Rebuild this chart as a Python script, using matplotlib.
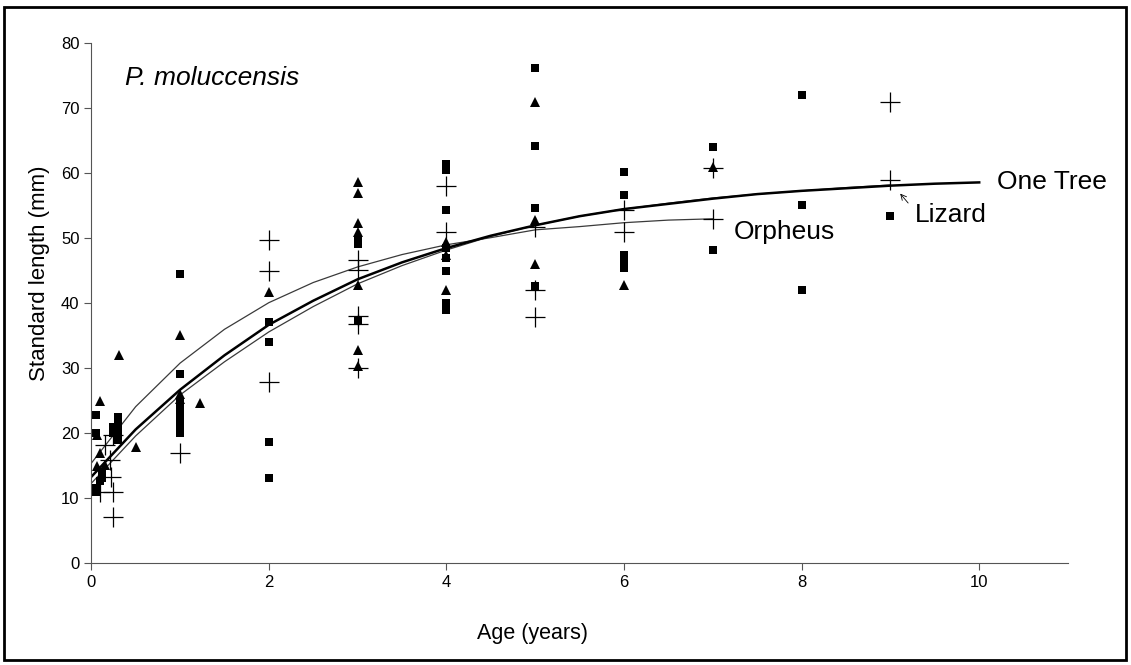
import matplotlib.pyplot as plt
import numpy as np
from matplotlib.patches import Rectangle

plt.rcParams['font.family'] = ['Liberation Sans', 'DejaVu Sans']

# scatter data (age in years, standard length in mm)
sq_age = [0.05, 0.05, 0.05, 0.05, 0.12, 0.12, 0.1, 0.3, 0.3, 0.3, 0.3, 0.3, 0.25, 0.25,
          1, 1, 1, 1, 1, 1, 1, 1, 1, 1, 1, 1,
          2, 2, 2, 2,
          3, 3, 3,
          4, 4, 4, 4, 4, 4, 4, 4,
          5, 5, 5, 5,
          6, 6, 6, 6, 6,
          7, 7, 8, 8, 8, 9]
sq_len = [22.8, 20.0, 11.6, 10.9, 14.0, 13.2, 12.6, 22.5, 21.5, 20.5, 19.5, 19.0, 21.0, 20.0,
          44.5, 29.2, 25.0, 24.5, 24.0, 23.5, 23.0, 22.5, 22.0, 21.5, 21.0, 20.1,
          37.2, 34.1, 18.7, 13.2,
          49.8, 49.2, 37.5,
          61.5, 60.5, 54.3, 48.5, 47.0, 45.0, 40.0, 39.0,
          76.2, 64.2, 54.6, 42.6,
          60.2, 56.6, 47.5, 46.5, 45.5,
          64.0, 48.2, 72.0, 55.1, 42.0, 53.5]

tri_age = [0.31, 0.1, 0.06, 0.5, 0.1, 0.06, 0.15,
           1, 1, 1, 1.23,
           2,
           3, 3, 3, 3, 3, 3, 3,
           4, 4, 4,
           5, 5, 5,
           6, 7]
tri_len = [32.0, 24.9, 19.7, 17.9, 16.9, 14.9, 15.1,
           35.1, 26.0, 25.3, 24.6,
           41.8,
           58.7, 56.9, 52.3, 51.0, 42.8, 32.8, 30.3,
           49.5, 47.5, 42.0,
           71.0, 52.8, 46.0,
           42.8, 61.0]

plus_age = [0.15, 0.24, 0.21, 0.22, 0.1, 0.24, 0.24,
            1,
            2, 2, 2,
            3, 3, 3, 3, 3,
            4, 4,
            5, 5, 5,
            6, 6, 7, 7, 9, 9]
plus_len = [18.2, 19.7, 15.9, 13.3, 11.0, 11.0, 7.2,
            16.9,
            49.8, 44.9, 27.9,
            46.7, 45.2, 38.0, 36.8, 30.0,
            58.0, 51.0,
            51.8, 42.0, 37.9,
            54.4, 50.9, 60.8, 52.9, 71.0, 59.0]

# fitted growth curves
onetree_age = [0, 0.5, 1, 1.5, 2, 2.5, 3, 3.5, 4, 4.5, 5, 5.5, 6, 6.5, 7, 7.5, 8, 8.5, 9, 9.5, 10]
onetree_len = [13.3, 20.6, 26.7, 32.0, 36.7, 40.4, 43.7, 46.3, 48.5, 50.4, 52.0, 53.4, 54.5,
               55.3, 56.1, 56.8, 57.3, 57.7, 58.1, 58.4, 58.6]
lizard_age = [0, 0.5, 1, 1.5, 2, 2.5, 3, 3.5, 4, 4.5, 5, 5.5, 6, 6.5, 7, 7.5, 8, 8.5, 9]
lizard_len = [12.3, 19.6, 25.9, 31.0, 35.6, 39.5, 43.0, 45.8, 48.2, 50.3, 52.0, 53.4, 54.5,
              55.4, 56.2, 56.8, 57.3, 57.8, 58.2]
orpheus_age = [0, 0.5, 1, 1.5, 2, 2.5, 3, 3.5, 4, 4.5, 5, 5.5, 6, 6.5, 7]
orpheus_len = [15.4, 24.1, 30.8, 36.0, 40.1, 43.2, 45.6, 47.5, 49.0, 50.1, 51.3, 51.8, 52.4,
               52.8, 53.0]

fig = plt.figure(figsize=(11.31, 6.65), dpi=100)
ax = fig.add_axes([0.0807, 0.1529, 0.8636, 0.7820])

ax.plot(orpheus_age, orpheus_len, color='#3a3a3a', lw=0.9)
ax.plot(lizard_age, lizard_len, color='#3a3a3a', lw=0.9)
ax.plot(onetree_age, onetree_len, color='black', lw=1.8)

ax.plot(sq_age, sq_len, 's', color='black', ms=6, mew=0, linestyle='none')
ax.plot(tri_age, tri_len, '^', color='black', ms=7.5, mew=0, linestyle='none')
ax.plot(plus_age, plus_len, '+', color='black', ms=14, mew=0.9, linestyle='none')

ax.text(10.2, 58.7, 'One Tree', fontsize=19, va='center')
ax.text(9.28, 53.6, 'Lizard', fontsize=19, va='center')
ax.text(7.24, 51.0, 'Orpheus', fontsize=19, va='center')
ax.annotate('', xy=(9.09, 57.2), xytext=(9.22, 55.1),
            arrowprops=dict(arrowstyle='->', lw=0.6, color='black'))
ax.text(0.38, 74.6, 'P. moluccensis', fontsize=19, style='italic', va='center')

ax.set_xlim(0, 11)
ax.set_ylim(0, 80)
ax.set_xticks([0, 2, 4, 6, 8, 10])
ax.set_yticks(range(0, 81, 10))
for s in ['top', 'right']:
    ax.spines[s].set_visible(False)
for s in ['left', 'bottom']:
    ax.spines[s].set_color('#555555')
ax.tick_params(direction='out', length=5, color='#555555', labelsize=12)
for lab in ax.get_xticklabels() + ax.get_yticklabels():
    lab.set_family(['Liberation Sans Narrow', 'Liberation Sans'])

ax.set_xlabel('Age (years)', fontsize=15.5, va='center')
ax.xaxis.set_label_coords(0.452, -0.134)
ax.set_ylabel('Standard length (mm)', fontsize=16, va='center')
ax.yaxis.set_label_coords(-0.0525, 0.557)

fig.patches.append(Rectangle((4 / 1131, 5 / 665), 1122 / 1131, 653 / 665,
                             transform=fig.transFigure, fill=False, lw=2, color='black'))

fig.savefig('out.png', dpi=100)
